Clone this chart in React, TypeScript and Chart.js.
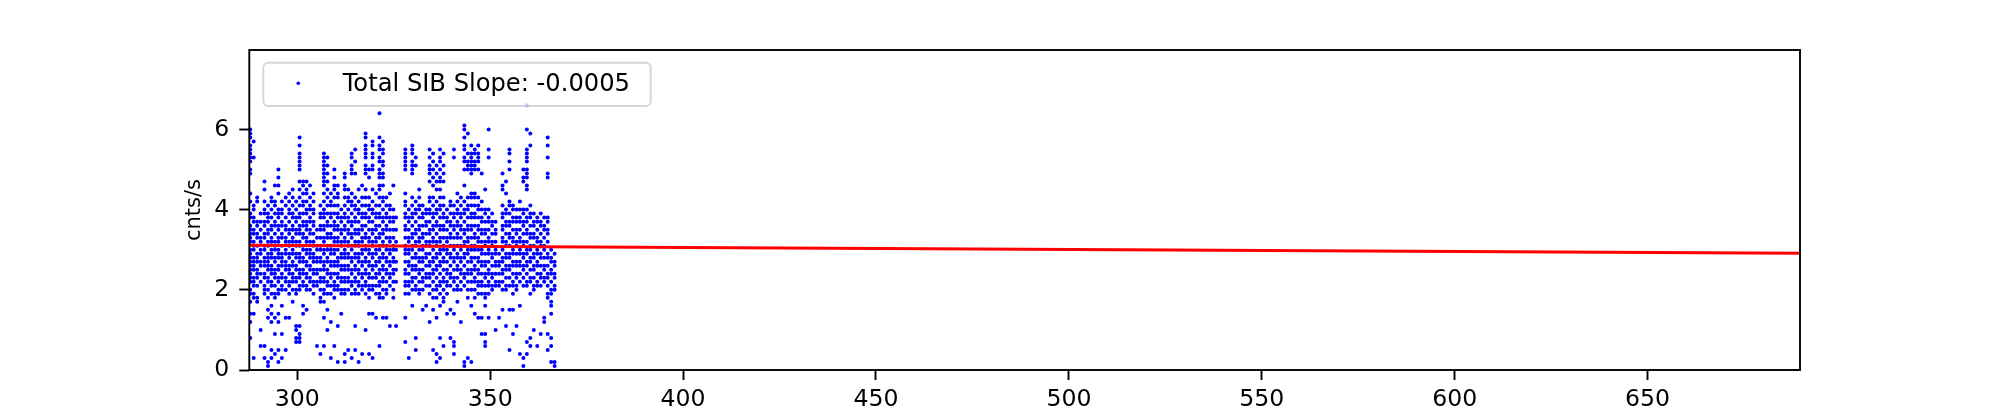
import React, { useEffect, useRef } from "react";
import { Chart, registerables } from "chart.js";

Chart.register(...registerables);

// ---- data ----
const xTicks = [300, 350, 400, 450, 500, 550, 600, 650];
const yTicks = [0, 2, 4, 6];
const xMin = 287.56;
const xMax = 689.5;
const yMin = 0;
const yMax = 7.98;

const seriesLabel = "Total SIB Slope: -0.0005";
const yAxisLabel = "cnts/s";

// linear fit line (red)
const fitX = [287.56, 689.5];
const fitY = [3.11, 2.91];

// scatter points, grouped by time column
const colX = [
  287.8, 288.7, 289.6, 290.5, 291.5, 292.4, 293.3, 294.2, 295.1, 296.0,
  297.0, 297.9, 298.8, 299.7, 300.6, 301.5, 302.4, 303.3, 304.2, 305.1,
  306.0, 306.9, 307.8, 308.7, 309.6, 310.5, 311.4, 312.3, 313.2, 314.1,
  315.0, 315.9, 316.8, 317.7, 318.6, 319.5, 320.4, 321.3, 322.2, 323.1,
  324.0, 324.9, 325.6, 328.0, 328.9, 329.8, 330.7, 331.6, 332.5, 333.4,
  334.3, 335.2, 336.1, 337.0, 337.9, 338.8, 339.7, 340.6, 341.5, 342.4,
  343.3, 344.2, 345.1, 346.0, 346.9, 347.8, 348.7, 349.6, 350.5, 351.4,
  352.3, 353.2, 354.1, 355.0, 355.9, 356.8, 357.7, 358.6, 359.5, 360.4,
  361.3, 362.2, 363.1, 364.0, 364.9, 365.8, 366.7,
];

const colY: number[][] = [
  [6.0,5.9,5.8,5.6,5.5,5.4,5.3,5.2,5.0,4.9,4.4,4.2,3.9,3.8,3.6,3.5,3.4,3.3,3.2,3.0,2.9,2.8,2.7,2.6,2.5,2.4,2.3,2.2,2.0,1.9,1.7,1.4,1.2,0.8],
  [5.7,5.3,4.1,4.0,3.8,3.7,3.5,3.4,3.2,3.1,3.0,2.8,2.7,2.6,2.5,2.3,2.2,2.1,1.9,1.8,1.4,0.3],
  [4.3,4.2,3.7,3.6,3.4,3.3,3.1,2.9,2.8,2.7,2.5,2.4,2.3,2.1,1.8,1.7],
  [3.9,3.7,3.5,3.3,3.2,3.0,2.9,2.7,2.6,2.4,2.2,1.0,0.6],
  [4.7,4.5,4.2,4.0,3.9,3.7,3.6,3.4,3.3,3.1,3.0,2.8,2.7,2.6,2.4,2.3,2.1,2.0,1.9,0.6,0.3],
  [4.1,3.9,3.8,3.7,3.5,3.4,3.2,3.1,2.9,2.8,2.7,2.6,2.5,2.3,2.2,2.0,1.8,1.5,1.3,0.2,0.1],
  [4.3,4.2,4.0,3.8,3.6,3.5,3.3,3.2,3.0,2.9,2.8,2.6,2.5,2.4,2.2,2.1,1.9,1.6,1.4,1.2,0.5,0.3],
  [4.6,4.2,4.1,3.9,3.7,3.6,3.4,3.2,3.1,3.0,2.8,2.7,2.5,2.4,2.3,2.1,1.9,1.8,1.3,0.9,0.4],
  [5.0,4.8,4.6,4.4,4.0,3.9,3.8,3.6,3.5,3.3,3.2,3.0,2.9,2.8,2.6,2.5,2.3,2.2,2.0,1.9,1.4,1.2,0.5,0.2],
  [4.2,4.0,3.9,3.7,3.6,3.4,3.3,3.1,2.9,2.8,2.7,2.6,2.4,2.3,2.1,2.0,1.6,0.9,0.3],
  [4.3,4.1,3.8,3.6,3.5,3.3,3.2,3.0,2.9,2.7,2.6,2.5,2.3,2.2,2.0,1.3,0.5],
  [4.4,4.2,4.0,3.9,3.7,3.5,3.4,3.2,3.1,2.9,2.8,2.6,2.5,2.4,2.2,2.1,1.9,1.3],
  [4.5,4.3,4.1,3.9,3.8,3.6,3.5,3.3,3.2,3.0,2.9,2.7,2.6,2.4,2.3,2.2,2.0,1.7],
  [4.2,4.0,3.8,3.7,3.5,3.4,3.2,3.1,2.9,2.8,2.6,2.5,2.3,2.2,2.0,1.9,1.1,1.0,0.8,0.7],
  [5.8,5.6,5.4,5.3,5.2,5.1,5.0,4.7,4.5,4.3,4.1,3.9,3.8,3.6,3.5,3.4,3.2,3.1,2.9,2.8,2.7,2.5,2.4,2.3,2.1,2.0,1.1,0.9,0.8,0.7],
  [4.7,4.6,4.4,4.2,4.1,3.9,3.7,3.6,3.4,3.3,3.1,3.0,2.8,2.7,2.5,2.4,2.2,2.1,1.6,1.4],
  [4.7,4.5,4.4,4.2,4.0,3.9,3.7,3.6,3.5,3.3,3.2,3.0,2.9,2.7,2.6,2.4,2.3,2.1,2.0,1.5],
  [4.6,4.3,4.1,4.0,3.8,3.7,3.5,3.4,3.2,3.0,2.9,2.8,2.6,2.5,2.3,2.2,2.0],
  [4.4,4.2,4.0,3.9,3.7,3.6,3.4,3.2,3.1,2.9,2.8,2.7,2.5,2.4,2.2,2.1,1.9],
  [3.5,3.3,3.1,3.0,2.8,2.7,2.5,2.4,2.2,2.1,0.6],
  [4.1,3.9,3.8,3.6,3.5,3.3,3.1,3.0,2.8,2.7,2.5,2.3,2.2,2.0,1.8,1.7,0.4],
  [5.4,5.3,5.2,5.1,5.0,4.9,4.8,4.7,4.6,4.4,4.2,4.0,3.9,3.8,3.6,3.5,3.3,3.2,3.0,2.9,2.7,2.6,2.5,2.3,2.2,2.0,1.9,1.7,1.3,0.6],
  [5.3,5.1,4.9,4.7,4.5,4.3,4.1,3.9,3.7,3.6,3.4,3.3,3.1,3.0,2.8,2.7,2.5,2.4,2.2,2.1,1.9,1.5,1.0],
  [4.4,4.2,4.1,3.9,3.8,3.6,3.4,3.3,3.1,3.0,2.9,2.7,2.6,2.4,2.3,2.1,1.9,1.2,0.3],
  [5.0,4.8,4.6,4.5,4.3,4.1,3.9,3.7,3.6,3.5,3.3,3.2,3.0,2.9,2.7,2.6,2.4,2.2,2.1,2.0,1.8,0.6],
  [4.6,4.4,4.3,4.1,3.9,3.8,3.6,3.5,3.3,3.2,3.0,2.8,2.7,2.6,2.4,2.3,2.1,2.0,1.1,0.2],
  [4.0,3.8,3.7,3.5,3.4,3.2,3.1,2.9,2.8,2.6,2.5,2.3,2.2,2.0,1.9,1.4],
  [4.9,4.8,4.6,4.5,4.3,4.1,3.9,3.8,3.6,3.5,3.3,3.2,3.0,2.9,2.8,2.6,2.5,2.3,2.2,2.0,1.9,0.4,0.2],
  [4.5,4.3,4.2,4.0,3.8,3.7,3.5,3.4,3.2,3.1,2.9,2.8,2.6,2.5,2.3,2.2,2.0,0.5],
  [5.4,5.3,5.1,5.0,4.9,4.4,4.2,4.1,3.9,3.7,3.6,3.4,3.3,3.1,3.0,2.8,2.7,2.5,2.4,2.2,2.1,1.9,0.3],
  [5.5,5.2,4.9,4.3,4.1,4.0,3.8,3.7,3.5,3.4,3.2,3.1,2.9,2.8,2.6,2.5,2.3,2.2,2.0,1.9,1.1,0.5],
  [4.5,4.2,4.0,3.9,3.7,3.5,3.4,3.2,3.1,2.9,2.8,2.7,2.5,2.4,2.2,2.1,1.9,0.2],
  [4.6,4.3,4.1,3.9,3.8,3.6,3.5,3.3,3.2,3.0,2.9,2.7,2.6,2.4,2.3,2.1,2.0,0.4],
  [5.9,5.8,5.6,5.5,5.4,5.3,5.1,5.0,4.9,4.5,4.3,4.1,3.9,3.8,3.6,3.4,3.3,3.1,3.0,2.8,2.7,2.5,2.4,2.2,2.1,1.9,1.0],
  [5.0,4.8,4.3,4.1,4.0,3.8,3.7,3.5,3.3,3.2,3.0,2.9,2.7,2.6,2.4,2.3,2.1,2.0,1.8,1.4,0.4],
  [5.7,5.6,5.4,5.3,5.1,5.0,4.5,4.2,4.0,3.9,3.7,3.5,3.4,3.2,3.1,2.9,2.8,2.6,2.5,2.3,2.1,2.0,1.4,0.3],
  [4.4,4.1,3.9,3.8,3.6,3.5,3.3,3.2,3.0,2.9,2.7,2.6,2.4,2.3,2.1,1.9,1.3],
  [6.4,5.8,5.6,5.5,5.3,5.2,5.0,4.9,4.8,4.6,4.5,4.3,4.1,3.9,3.8,3.6,3.4,3.3,3.1,3.0,2.8,2.7,2.5,2.4,2.2,2.1,1.9,1.8,0.6],
  [5.7,5.5,5.4,5.2,5.1,4.9,4.8,4.6,4.3,4.2,4.0,3.8,3.7,3.5,3.4,3.2,3.1,2.9,2.8,2.6,2.5,2.3,2.2,2.0,1.8,1.3],
  [4.3,4.1,3.9,3.8,3.6,3.5,3.3,3.1,3.0,2.8,2.7,2.5,2.4,2.2,2.0,1.9,1.3],
  [4.4,4.1,4.0,3.8,3.7,3.5,3.3,3.2,3.0,2.9,2.7,2.6,2.4,2.3,2.1,1.1],
  [4.6,4.0,3.8,3.7,3.5,3.3,3.1,3.0,2.8,2.7,2.5,2.4,2.2,2.0,1.8],
  [3.8,3.5,3.2,3.0,2.7,2.5,2.2,1.1],
  [5.5,5.4,5.3,5.2,5.1,5.0,4.4,4.2,4.1,3.9,3.8,3.6,3.5,3.3,3.1,3.0,2.9,2.7,2.5,2.4,2.2,2.1,1.9,1.3,0.7],
  [4.0,3.8,3.7,3.5,3.3,3.2,3.0,2.9,2.7,2.6,2.4,2.2,2.1,1.9,0.3],
  [5.6,5.5,5.4,5.2,5.1,5.0,4.9,4.3,4.1,3.9,3.8,3.6,3.4,3.3,3.1,3.0,2.8,2.6,2.5,2.3,2.2,2.0,1.6],
  [5.3,5.1,4.2,4.0,3.9,3.7,3.5,3.4,3.2,3.1,2.9,2.8,2.6,2.5,2.3,2.1,2.0,0.8,0.5],
  [4.5,4.3,4.1,4.0,3.8,3.6,3.5,3.3,3.2,3.0,2.8,2.7,2.5,2.4,2.2,2.0,1.9],
  [4.1,3.9,3.8,3.6,3.4,3.3,3.1,3.0,2.8,2.7,2.5,2.3,2.2,2.0,1.5],
  [4.0,3.9,3.7,3.6,3.4,3.2,3.1,2.9,2.8,2.6,2.4,2.3,2.1,1.6],
  [5.5,5.3,5.1,5.0,4.9,4.7,4.3,4.2,4.0,3.9,3.7,3.5,3.4,3.2,3.1,2.9,2.7,2.6,2.4,2.3,2.1,1.9,1.2],
  [5.4,5.2,5.0,4.8,4.6,4.3,4.1,3.9,3.8,3.6,3.5,3.3,3.2,3.0,2.8,2.7,2.5,2.4,2.2,2.0,1.8,1.5,0.5],
  [5.1,4.9,4.7,4.5,4.2,4.0,3.9,3.7,3.6,3.4,3.2,3.1,2.9,2.8,2.6,2.5,2.3,2.1,2.0,1.8,1.3,0.4,0.2],
  [5.5,5.3,5.2,5.0,4.8,4.7,4.5,4.3,4.1,4.0,3.8,3.6,3.5,3.3,3.2,3.0,2.9,2.7,2.6,2.4,2.2,2.1,1.9,1.6,0.8,0.3],
  [5.4,5.1,4.9,4.7,4.3,4.1,3.9,3.8,3.6,3.5,3.3,3.1,3.0,2.8,2.7,2.5,2.3,2.2,2.0,1.8,1.7,0.6],
  [4.0,3.8,3.7,3.5,3.3,3.2,3.0,2.9,2.7,2.5,2.4,2.2,2.1,1.9,1.4],
  [4.2,4.1,3.9,3.7,3.6,3.4,3.3,3.1,2.9,2.8,2.6,2.4,2.3,2.1,1.5,0.8],
  [5.5,5.3,4.1,3.9,3.8,3.6,3.5,3.3,3.1,3.0,2.8,2.7,2.5,2.3,2.2,2.0,1.4,0.7,0.6,0.4],
  [4.4,4.2,4.0,3.9,3.7,3.6,3.4,3.3,3.1,2.9,2.8,2.6,2.5,2.3,2.1,2.0,1.7],
  [4.3,4.1,3.9,3.8,3.6,3.5,3.3,3.1,3.0,2.8,2.7,2.5,2.4,2.2,2.0,1.2],
  [6.1,6.0,5.8,5.6,5.5,5.3,5.2,5.0,4.6,4.2,4.0,3.9,3.7,3.5,3.4,3.2,3.1,2.9,2.8,2.6,2.4,2.3,2.1,0.2,0.1],
  [5.9,5.4,5.2,5.1,5.0,4.3,4.1,4.0,3.8,3.6,3.5,3.3,3.2,3.0,2.9,2.7,2.5,2.4,2.2,2.0,1.8,0.3],
  [5.6,5.4,5.3,5.2,5.1,5.0,4.9,4.4,4.3,4.1,3.9,3.8,3.6,3.5,3.3,3.1,3.0,2.8,2.7,2.5,2.4,2.2,2.0,1.6,0.2],
  [5.5,5.4,5.2,5.1,5.0,4.4,4.3,4.1,3.9,3.8,3.6,3.4,3.3,3.1,3.0,2.8,2.6,2.5,2.3,2.2,2.0,1.8,1.4],
  [5.6,5.4,5.3,5.2,5.0,4.3,4.1,4.0,3.8,3.6,3.5,3.3,3.2,3.0,2.8,2.7,2.5,2.4,2.2,2.1,1.9,1.3],
  [4.9,4.2,4.0,3.8,3.7,3.5,3.4,3.2,3.0,2.9,2.7,2.6,2.4,2.2,2.1,1.9,1.3,0.9],
  [4.5,4.0,3.9,3.7,3.5,3.4,3.2,3.1,2.9,2.7,2.6,2.4,2.3,2.1,1.9,1.8,1.6,0.9,0.7,0.6],
  [6.0,5.5,5.3,4.0,3.8,3.7,3.5,3.3,3.2,3.0,2.9,2.7,2.5,2.4,2.2,2.1,1.9,1.3],
  [3.9,3.7,3.6,3.4,3.2,3.1,2.9,2.8,2.6,2.4,2.3,2.1,2.0],
  [3.7,3.5,3.4,3.2,3.0,2.9,2.7,2.6,2.4,2.2,2.1,1.0],
  [2.9,2.7,2.6,2.4,2.2,2.1,1.3],
  [4.9,4.6,4.5,4.1,3.9,3.8,3.6,3.5,3.3,3.2,3.0,2.8,2.7,2.5,2.4,2.2,2.0,1.5],
  [4.7,4.4,4.0,3.9,3.7,3.6,3.4,3.2,3.1,2.9,2.8,2.6,2.5,2.3,2.1,2.0,1.1],
  [5.5,5.4,5.2,5.0,4.2,4.1,3.9,3.7,3.6,3.4,3.3,3.1,2.9,2.8,2.6,2.5,2.3,2.1,1.5,0.5],
  [4.1,4.0,3.8,3.7,3.5,3.3,3.2,3.0,2.9,2.7,2.6,2.4,2.2,2.1,1.9,1.5,0.9],
  [4.0,3.8,3.7,3.5,3.4,3.2,3.1,2.9,2.7,2.6,2.4,2.3,2.1,2.0,1.1],
  [4.2,4.0,3.8,3.7,3.5,3.3,3.2,3.0,2.9,2.7,2.6,2.4,2.2,1.6,0.4],
  [5.0,4.8,4.7,4.0,3.9,3.7,3.6,3.4,3.2,3.1,2.9,2.8,2.6,2.5,2.3,2.1,0.3,0.1],
  [6.6,6.0,5.5,5.4,5.3,5.2,5.0,4.9,4.8,4.6,4.5,4.0,3.8,3.7,3.5,3.4,3.2,3.0,2.9,2.7,2.6,2.4,2.2,2.1,0.7,0.4],
  [5.9,5.6,4.1,3.9,3.8,3.6,3.4,3.3,3.1,3.0,2.8,2.7,2.5,2.3,2.2,1.9,0.8,0.6],
  [3.9,3.7,3.6,3.4,3.3,3.1,2.9,2.8,2.6,2.5,2.3,2.1,2.0,1.0],
  [3.8,3.7,3.5,3.3,3.2,3.0,2.9,2.7,2.6,2.4,2.2,2.1,0.6],
  [3.9,3.7,3.6,3.4,3.2,3.1,2.9,2.8,2.6,2.4,2.3,2.1,0.9],
  [3.8,3.6,3.5,3.3,3.1,3.0,2.8,2.6,2.5,2.3,2.2,1.3,1.2],
  [5.8,5.6,5.3,4.9,4.8,3.8,3.7,3.5,3.4,3.2,2.9,2.8,2.6,2.4,2.3,2.1,1.9,1.8,0.9,0.5],
  [3.0,2.8,2.7,2.5,2.4,2.2,2.0,1.9,1.7,1.6,1.4,0.8,0.6,0.2],
  [2.9,2.7,2.6,2.4,2.3,2.1,2.0,0.2,0.1],
];

// ---- styling ----
const FONT = "DejaVu Sans";
const TICK_SIZE = 23.6;
const AXIS_W = 1.9;

const framePlugin = {
  id: "mplFrame",
  afterDatasetsDraw(chart: any) {
    const { ctx, chartArea } = chart;
    const { left, top, right, bottom } = chartArea;
    ctx.save();
    ctx.strokeStyle = "#000";
    ctx.lineWidth = AXIS_W;
    ctx.strokeRect(left, top, right - left, bottom - top);
    ctx.restore();
  },
};

const legendPlugin = {
  id: "mplLegend",
  afterDraw(chart: any) {
    const { ctx, chartArea } = chart;
    const ds = chart.data.datasets.find((d: any) => d.type === "scatter");
    if (!ds) return;
    const bx = chartArea.left + 14;
    const by = chartArea.top + 12.7;
    const bw = 387.4;
    const bh = 43.3;
    ctx.save();
    ctx.beginPath();
    if (ctx.roundRect) ctx.roundRect(bx, by, bw, bh, 5);
    else ctx.rect(bx, by, bw, bh);
    ctx.fillStyle = "rgba(255,255,255,0.8)";
    ctx.fill();
    ctx.lineWidth = 1.9;
    ctx.strokeStyle = "rgba(204,204,204,0.8)";
    ctx.stroke();
    // marker
    ctx.beginPath();
    ctx.arc(bx + 35, by + 20.6, 1.8, 0, Math.PI * 2);
    ctx.fillStyle = "#0000ff";
    ctx.fill();
    // text
    ctx.fillStyle = "#000";
    ctx.font = `${24.2}px "${FONT}"`;
    ctx.textBaseline = "alphabetic";
    ctx.textAlign = "left";
    ctx.fillText(ds.label, bx + 79.4, by + 28.3);
    ctx.restore();
  },
};

export default function App() {
  const ref = useRef<HTMLCanvasElement | null>(null);

  useEffect(() => {
    if (!ref.current) return;
    const points = colX.flatMap((x, i) => colY[i].map((y) => ({ x, y })));
    const fit = fitX.map((x, i) => ({ x, y: fitY[i] }));

    const chart = new Chart(ref.current, {
      type: "scatter",
      data: {
        datasets: [
          {
            type: "line",
            label: "fit",
            data: fit,
            borderColor: "#ff0000",
            borderWidth: 3,
            pointRadius: 0,
            fill: false,
            order: 0,
          } as any,
          {
            type: "scatter",
            label: seriesLabel,
            data: points,
            backgroundColor: "#0000ff",
            borderWidth: 0,
            pointRadius: 2.0,
            pointHoverRadius: 2.0,
            order: 1,
          } as any,
        ],
      },
      options: {
        animation: false,
        responsive: false,
        devicePixelRatio: 1,
        events: [],
        layout: { padding: { left: 0, right: 200, top: 50, bottom: 0 } },
        plugins: {
          legend: { display: false },
          tooltip: { enabled: false },
        },
        scales: {
          x: {
            type: "linear",
            min: xMin,
            max: xMax,
            afterBuildTicks: (s: any) => {
              s.ticks = xTicks.map((v) => ({ value: v }));
            },
            afterFit: (s: any) => {
              s.height = 46;
            },
            border: { display: false },
            grid: {
              drawOnChartArea: false,
              drawTicks: true,
              tickLength: 10,
              tickColor: "#000",
              tickWidth: AXIS_W,
            },
            ticks: {
              color: "#000",
              font: { family: FONT, size: TICK_SIZE },
              padding: 6,
              maxRotation: 0,
              autoSkip: false,
              callback: (v: any) => String(v),
            },
          },
          y: {
            type: "linear",
            min: yMin,
            max: yMax,
            afterBuildTicks: (s: any) => {
              s.ticks = yTicks.map((v) => ({ value: v }));
            },
            afterFit: (s: any) => {
              s.width = 249.3;
            },
            border: { display: false },
            grid: {
              drawOnChartArea: false,
              drawTicks: true,
              tickLength: 10,
              tickColor: "#000",
              tickWidth: AXIS_W,
            },
            ticks: {
              color: "#000",
              font: { family: FONT, size: TICK_SIZE },
              padding: 10,
              autoSkip: false,
              callback: (v: any) => String(v),
            },
            title: {
              display: true,
              text: yAxisLabel,
              color: "#000",
              font: { family: FONT, size: 21 },
              padding: { top: 182, bottom: 0 },
            },
          },
        },
      },
      plugins: [framePlugin, legendPlugin],
    });
    return () => chart.destroy();
  }, []);

  return (
    <div style={{ position: "absolute", left: 0, top: 0, width: 2000, height: 416, background: "#fff" }}>
      <canvas ref={ref} width={2000} height={416} />
    </div>
  );
}
